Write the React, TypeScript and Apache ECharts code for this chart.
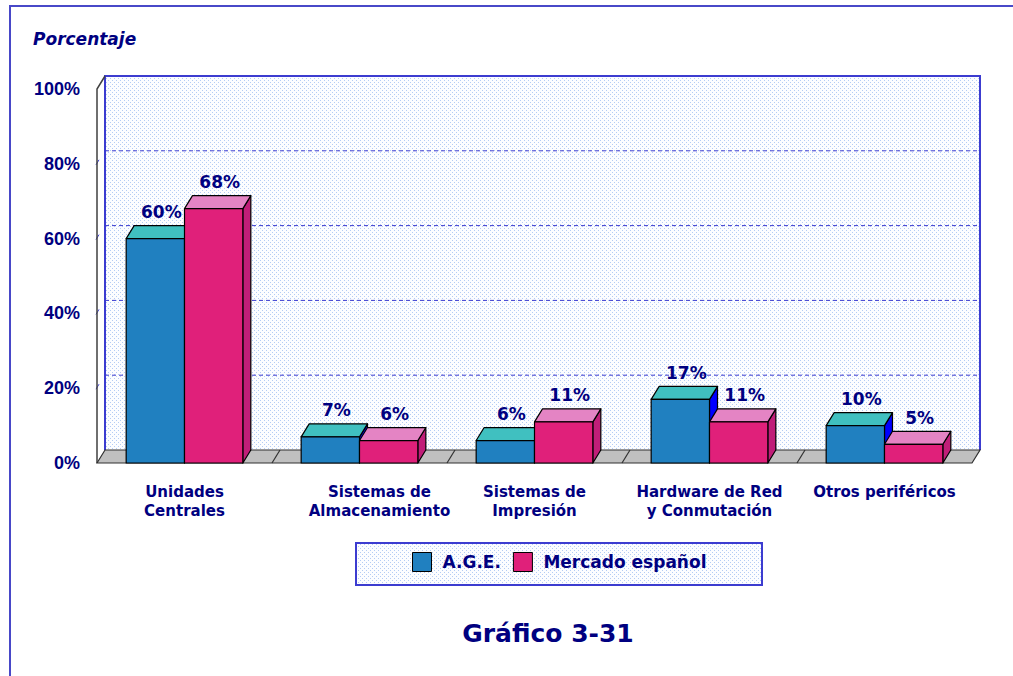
import React, { useEffect, useRef } from 'react';
import * as echarts from 'echarts';

const categories = [
  'Unidades\nCentrales',
  'Sistemas de\nAlmacenamiento',
  'Sistemas de\nImpresión',
  'Hardware de Red\ny Conmutación',
  'Otros periféricos',
];
const ageValues = [60, 7, 6, 17, 10];
const mercadoValues = [68, 6, 11, 11, 5];
const yTicks = [0, 20, 40, 60, 80, 100];
const seriesNames = ['A.G.E.', 'Mercado español'];

const DX = 8;
const DY = -13;
const NAVY = '#000080';
const WALL_BLUE = '#3c3cd0';
const FONT = '"Liberation Sans", Arial, Helvetica, sans-serif';
const WIDE = '"DejaVu Sans", Verdana, sans-serif';

const palette = [
  { front: '#2080c0', top: '#40c0c0', side: '#0000ff' },
  { front: '#e0207a', top: '#e484c4', side: '#c01e78' },
];

function makeDots(): string {
  const c = document.createElement('canvas');
  c.width = 4;
  c.height = 4;
  const ctx = c.getContext('2d');
  if (ctx) {
    ctx.fillStyle = '#b4ccf4';
    ctx.fillRect(0, 0, 1, 1);
    ctx.fillRect(2, 2, 1, 1);
  }
  return c.toDataURL();
}

export default function App() {
  const ref = useRef<HTMLDivElement>(null);

  useEffect(() => {
    if (!ref.current) return;
    const chart = echarts.init(ref.current, undefined, { renderer: 'svg' });
    const dots = makeDots();
    const pattern: any = { image: dots, repeat: 'repeat', imageWidth: 4, imageHeight: 4 };

    const frameRender = (params: any, api: any) => {
      const cs = params.coordSys;
      const x0 = cs.x;
      const x1 = cs.x + cs.width;
      const yT = cs.y;
      const yB = cs.y + cs.height;
      const children: any[] = [];
      children.push({
        type: 'rect',
        shape: { x: x0 + DX, y: yT + DY, width: cs.width, height: cs.height },
        style: { fill: '#fcfdff' },
      });
      children.push({
        type: 'rect',
        shape: { x: x0 + DX, y: yT + DY, width: cs.width, height: cs.height },
        style: { fill: pattern },
      });
      yTicks.forEach((v) => {
        if (v === 0 || v === 100) return;
        const y = api.coord([0, v])[1];
        children.push({
          type: 'line',
          shape: { x1: x0 + DX, y1: y + DY, x2: x1 + DX, y2: y + DY },
          style: { stroke: WALL_BLUE, lineWidth: 1, lineDash: [4, 3] },
        });
        children.push({
          type: 'line',
          shape: { x1: x0 - 1, y1: y + 1, x2: x0 + 2, y2: y - 4 },
          style: { stroke: WALL_BLUE, lineWidth: 1 },
        });
      });
      children.push({
        type: 'polyline',
        shape: {
          points: [
            [x0 + DX, yB + DY],
            [x0 + DX, yT + DY],
            [x1 + DX, yT + DY],
            [x1 + DX, yB + DY],
          ],
        },
        style: { stroke: WALL_BLUE, lineWidth: 2, fill: 'none' },
      });
      children.push({
        type: 'polyline',
        shape: { points: [[x0, yB], [x0, yT], [x0 + DX, yT + DY]] },
        style: { stroke: '#404040', lineWidth: 1.5, fill: 'none' },
      });
      children.push({
        type: 'polygon',
        shape: {
          points: [
            [x0, yB],
            [x0 + DX, yB + DY],
            [x1 + DX, yB + DY],
            [x1, yB],
          ],
        },
        style: { fill: '#c0c0c0', stroke: '#303030', lineWidth: 1.2 },
      });
      const band = cs.width / categories.length;
      for (let i = 1; i < categories.length; i++) {
        const x = x0 + band * i;
        children.push({
          type: 'line',
          shape: { x1: x, y1: yB, x2: x + DX, y2: yB + DY },
          style: { stroke: '#303030', lineWidth: 1.2 },
        });
      }
      return { type: 'group', children };
    };

    const makeBarRender = (s: number) => (params: any, api: any) => {
      const idx = api.value(0);
      const val = api.value(1);
      const pt = api.coord([idx, val]);
      const cx = pt[0];
      const yTop = pt[1];
      const y0 = api.coord([idx, 0])[1];
      const band = api.size([1, 0])[0];
      const bw = band / 3;
      const x = s === 0 ? cx - bw : cx;
      const col = palette[s];
      const stroke = { stroke: '#000', lineWidth: 1.2, lineJoin: 'round' };
      return {
        type: 'group',
        children: [
          {
            type: 'polygon',
            shape: {
              points: [
                [x + bw, yTop],
                [x + bw + DX, yTop + DY],
                [x + bw + DX, y0 + DY],
                [x + bw, y0],
              ],
            },
            style: { fill: col.side, ...stroke },
          },
          {
            type: 'polygon',
            shape: {
              points: [
                [x, yTop],
                [x + DX, yTop + DY],
                [x + bw + DX, yTop + DY],
                [x + bw, yTop],
              ],
            },
            style: { fill: col.top, ...stroke },
          },
          {
            type: 'rect',
            shape: { x, y: yTop, width: bw, height: y0 - yTop },
            style: { fill: col.front, ...stroke },
          },
          {
            type: 'text',
            style: {
              x: x + bw / 2 + DX / 2 + 2,
              y: yTop + DY - 5,
              text: `${val}%`,
              textAlign: 'center',
              textVerticalAlign: 'bottom',
              fill: NAVY,
              font: `bold 17px ${WIDE}`,
            },
          },
        ],
      };
    };

    const option: any = {
      animation: false,
      backgroundColor: '#ffffff',
      title: [
        {
          text: 'Porcentaje',
          left: 33,
          top: 30,
          padding: 0,
          textStyle: { fontSize: 17, fontWeight: 'bold', fontStyle: 'italic', color: NAVY, fontFamily: WIDE },
        },
        {
          text: 'Gráfico 3-31',
          left: 548,
          top: 621,
          padding: 0,
          textAlign: 'center',
          textStyle: { fontSize: 25, fontWeight: 'bold', color: NAVY, fontFamily: WIDE },
        },
      ],
      graphic: [
        {
          type: 'rect',
          z: -10,
          silent: true,
          shape: { x: 10, y: 6, width: 1100, height: 700 },
          style: { fill: 'transparent', stroke: '#4848c8', lineWidth: 2 },
        },
        {
          type: 'rect',
          z: 0,
          silent: true,
          shape: { x: 356, y: 543, width: 406, height: 42 },
          style: { fill: '#fcfdff', stroke: WALL_BLUE, lineWidth: 2 },
        },
        {
          type: 'rect',
          z: 0,
          silent: true,
          shape: { x: 357, y: 544, width: 404, height: 40 },
          style: { fill: pattern },
        },
      ],
      legend: {
        left: 412,
        top: 552,
        padding: 0,
        itemWidth: 19,
        itemHeight: 19,
        itemGap: 12,
        icon: 'rect',
        selectedMode: false,
        data: seriesNames.map((n, i) => ({
          name: n,
          itemStyle: { color: palette[i].front, borderColor: '#000', borderWidth: 1 },
        })),
        textStyle: { fontSize: 17, fontWeight: 'bold', color: NAVY, fontFamily: WIDE, padding: [0, 0, 0, 6] },
      },
      grid: { left: 97, top: 89, width: 875, height: 374 },
      xAxis: {
        type: 'category',
        data: categories.map((c, i) => (i === 1 ? { value: c, textStyle: { padding: [0, 0, 0, 40] } } : c)),
        axisLine: { show: false },
        axisTick: { show: false },
        splitLine: { show: false },
        axisLabel: {
          interval: 0,
          margin: 19,
          fontSize: 15,
          lineHeight: 19,
          fontWeight: 'bold',
          color: NAVY,
          fontFamily: WIDE,
        },
      },
      yAxis: {
        type: 'value',
        min: 0,
        max: 100,
        interval: 20,
        axisLine: { show: false },
        axisTick: { show: false },
        splitLine: { show: false },
        axisLabel: {
          formatter: '{value}%',
          margin: 17,
          fontSize: 18,
          fontWeight: 'bold',
          color: NAVY,
          fontFamily: FONT,
        },
      },
      series: [
        {
          type: 'custom',
          name: 'frame',
          silent: true,
          clip: false,
          z: 1,
          renderItem: frameRender,
          data: [[0, 0]],
          encode: { x: 0, y: 1 },
        },
        {
          type: 'custom',
          name: seriesNames[0],
          clip: false,
          z: 3,
          itemStyle: { color: palette[0].front },
          renderItem: makeBarRender(0),
          data: ageValues.map((v, i) => [i, v]),
          encode: { x: 0, y: 1 },
        },
        {
          type: 'custom',
          name: seriesNames[1],
          clip: false,
          z: 4,
          itemStyle: { color: palette[1].front },
          renderItem: makeBarRender(1),
          data: mercadoValues.map((v, i) => [i, v]),
          encode: { x: 0, y: 1 },
        },
      ],
    };
    chart.setOption(option);
    return () => chart.dispose();
  }, []);

  return (
    <div
      ref={ref}
      style={{ position: 'fixed', left: 0, top: 0, width: 1013, height: 676, background: '#fff' }}
    />
  );
}
